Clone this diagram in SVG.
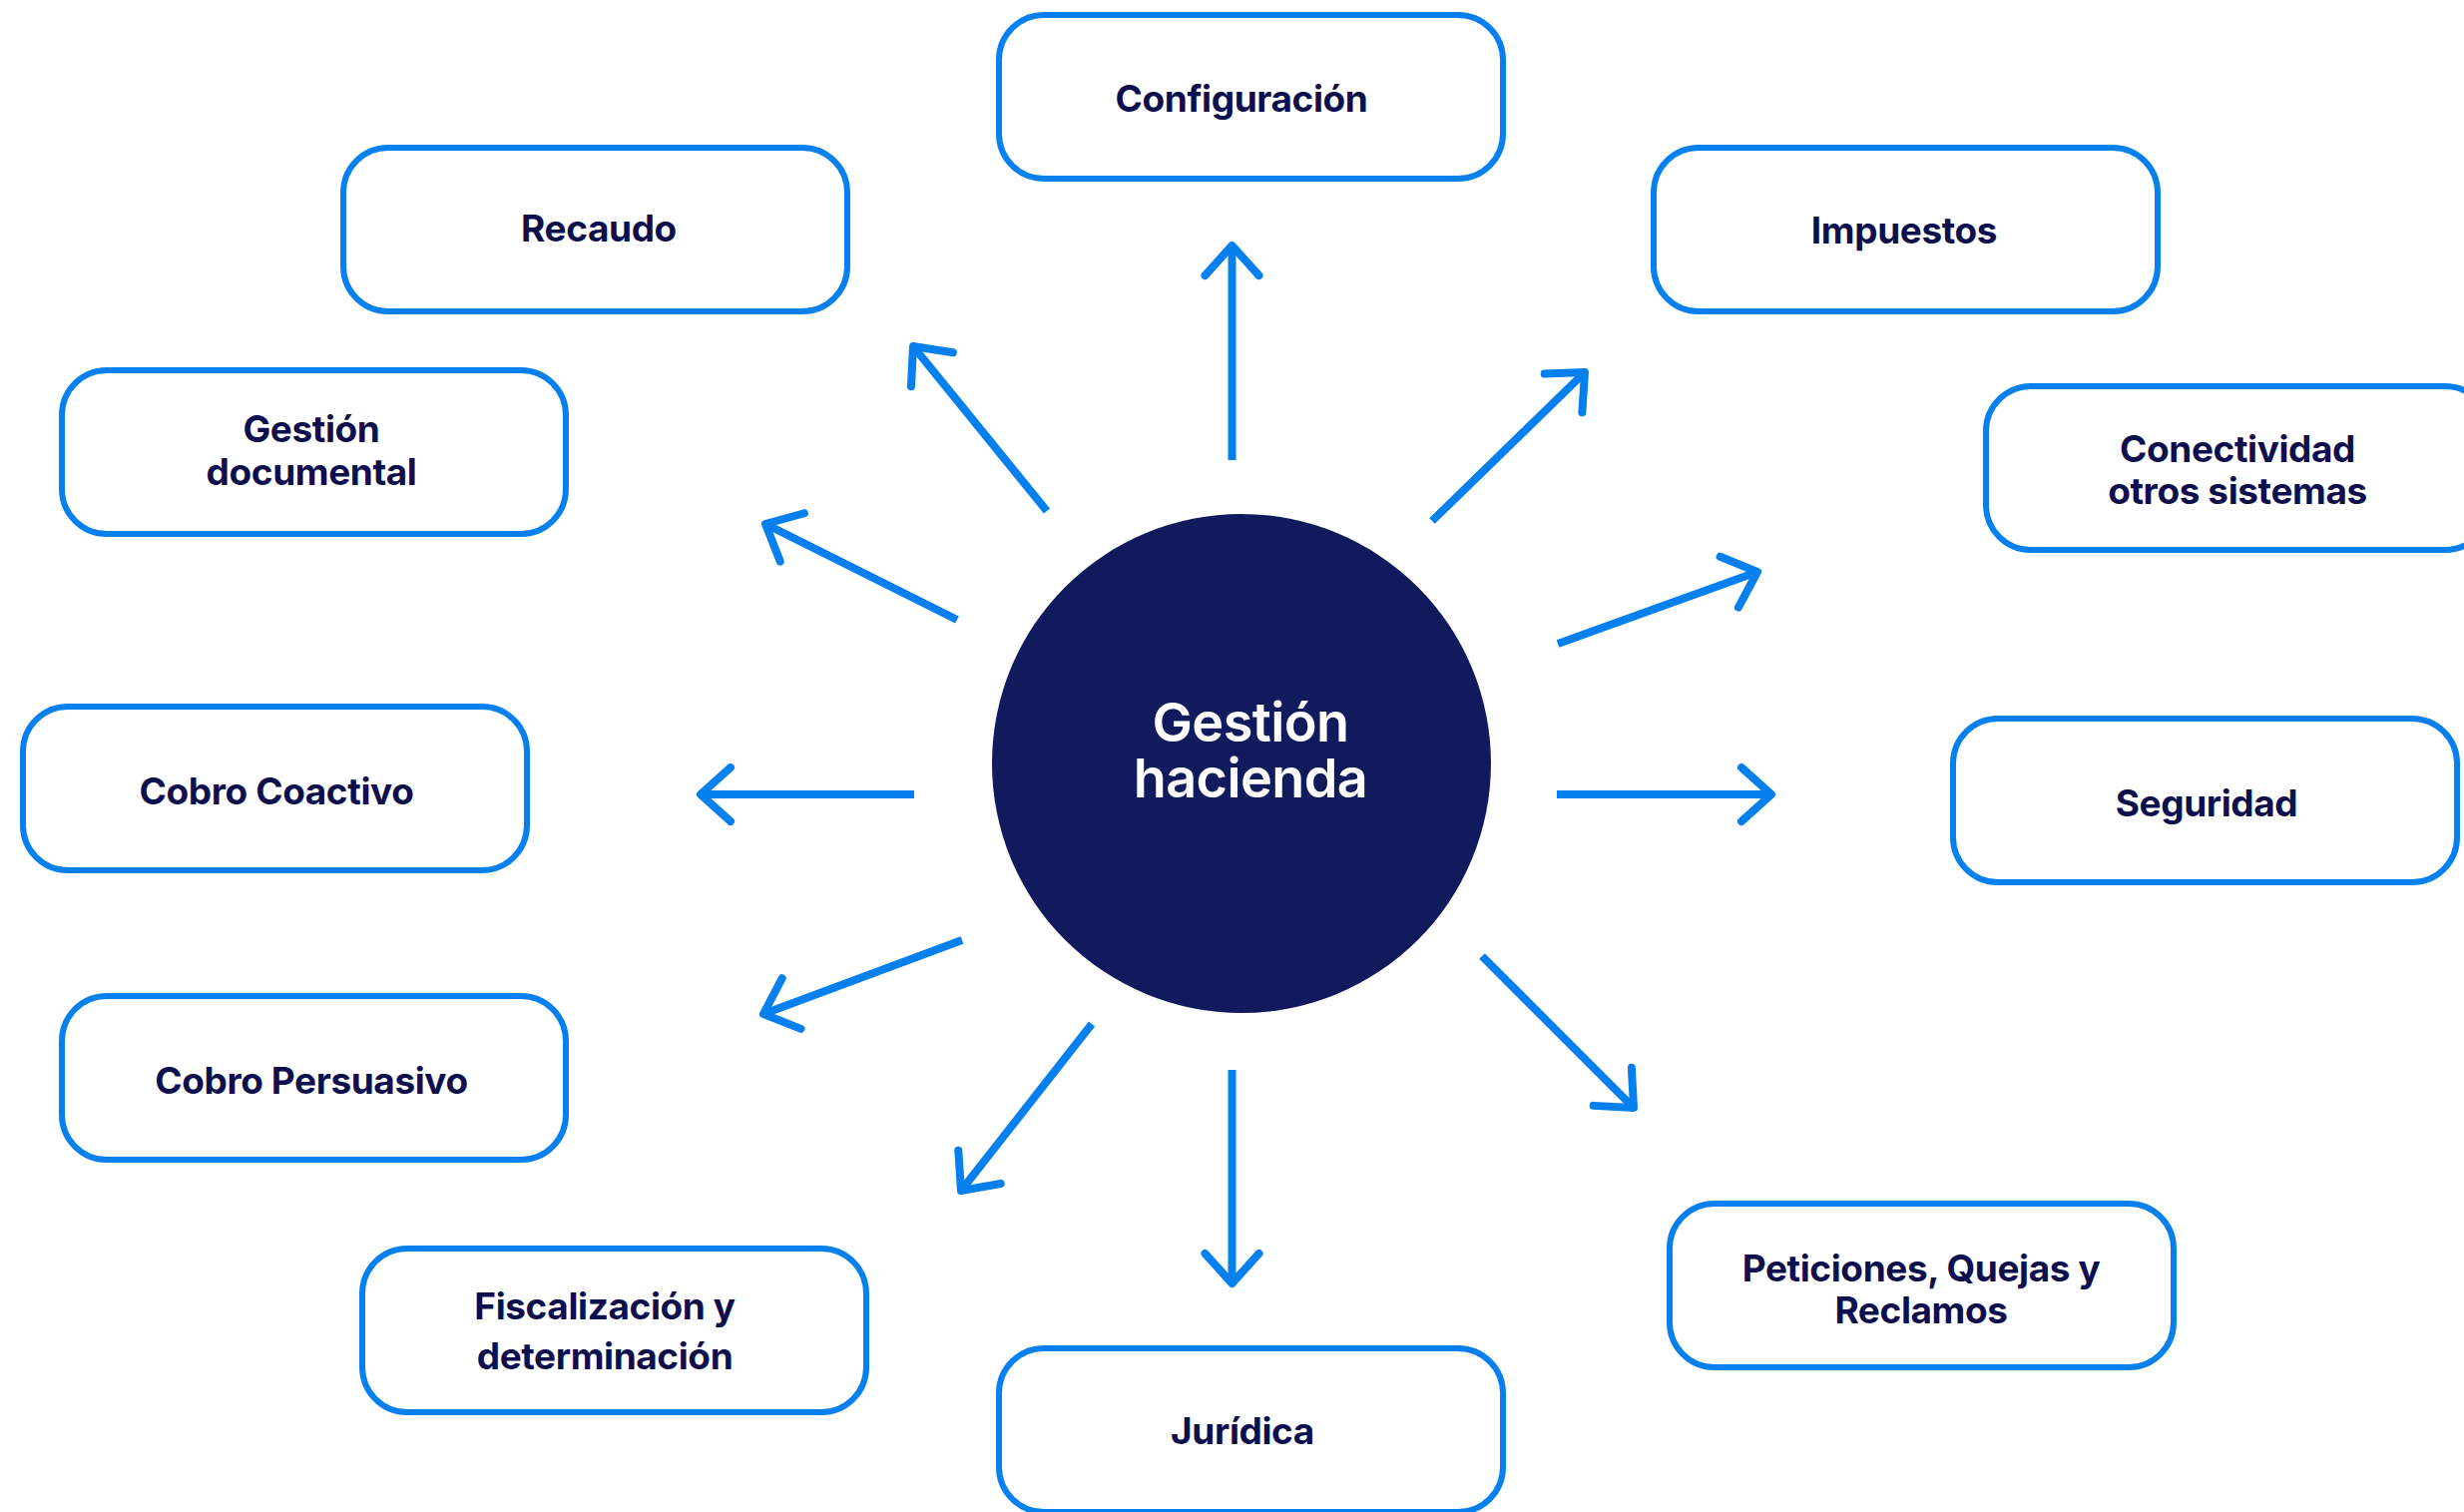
<svg xmlns="http://www.w3.org/2000/svg" width="2469" height="1515" viewBox="0 0 2469 1515">
  <style>
    .box { fill: #ffffff; stroke: #0780EF; stroke-width: 6; }
    .lbl { font-family: Inter, "Noto Sans", "Liberation Sans", sans-serif; font-weight: 700; font-size: 37px; fill: #0E0F4D; text-anchor: middle; letter-spacing: -0.4px; }
    .ctr { font-family: Inter, "Noto Sans", "Liberation Sans", sans-serif; font-weight: 600; font-size: 54px; fill: #ffffff; text-anchor: middle; letter-spacing: -0.6px; }
    .arr { fill: none; stroke: #0780EF; stroke-width: 8; stroke-linecap: butt; }
  </style>
  <defs>
    <marker id="ah" markerUnits="userSpaceOnUse" markerWidth="90" markerHeight="90" viewBox="-45 -45 90 90" refX="0" refY="0" orient="auto" overflow="visible">
      <path d="M-30,-27 L0,0 L-30,27" fill="none" stroke="#0780EF" stroke-width="8" stroke-linecap="round" stroke-linejoin="round"/>
    </marker>
  </defs>
  <rect width="2469" height="1515" fill="#ffffff"/>

  <g id="connectors">
    <line class="arr" x1="1234.5" y1="461" x2="1234.5" y2="246" marker-end="url(#ah)"/>
    <line class="arr" x1="1049" y1="512" x2="915" y2="347" marker-end="url(#ah)"/>
    <line class="arr" x1="959" y1="621" x2="767" y2="525" marker-end="url(#ah)"/>
    <line class="arr" x1="916" y1="796" x2="702" y2="796" marker-end="url(#ah)"/>
    <line class="arr" x1="964" y1="942" x2="765" y2="1016" marker-end="url(#ah)"/>
    <line class="arr" x1="1094" y1="1026" x2="963" y2="1193" marker-end="url(#ah)"/>
    <line class="arr" x1="1234.5" y1="1072" x2="1234.5" y2="1286" marker-end="url(#ah)"/>
    <line class="arr" x1="1485" y1="958" x2="1637" y2="1110" marker-end="url(#ah)"/>
    <line class="arr" x1="1560" y1="796" x2="1775" y2="796" marker-end="url(#ah)"/>
    <line class="arr" x1="1561" y1="645" x2="1761" y2="573" marker-end="url(#ah)"/>
    <line class="arr" x1="1435" y1="522" x2="1588" y2="373" marker-end="url(#ah)"/>
  </g>

  <g id="center">
    <circle cx="1244" cy="765" r="250" fill="#121A5E"/>
    <text class="ctr" x="1253" y="743">Gestión</text>
    <text class="ctr" x="1253" y="799">hacienda</text>
  </g>

  <g id="configuracion">
    <rect class="box" x="1001" y="15" width="505" height="164" rx="45"/>
    <text class="lbl" x="1244" y="112">Configuración</text>
  </g>
  <g id="recaudo">
    <rect class="box" x="344" y="148" width="505" height="164" rx="45"/>
    <text class="lbl" x="600" y="242">Recaudo</text>
  </g>
  <g id="impuestos">
    <rect class="box" x="1657" y="148" width="505" height="164" rx="45"/>
    <text class="lbl" x="1908" y="244">Impuestos</text>
  </g>
  <g id="gestion-documental">
    <rect class="box" x="62" y="371" width="505" height="164" rx="45"/>
    <text class="lbl" x="312" y="443">Gestión</text>
    <text class="lbl" x="312" y="486">documental</text>
  </g>
  <g id="conectividad">
    <rect class="box" x="1990" y="387" width="505" height="164" rx="45"/>
    <text class="lbl" x="2242" y="463">Conectividad</text>
    <text class="lbl" x="2242" y="505">otros sistemas</text>
  </g>
  <g id="cobro-coactivo">
    <rect class="box" x="23" y="708" width="505" height="164" rx="45"/>
    <text class="lbl" x="277" y="806">Cobro Coactivo</text>
  </g>
  <g id="seguridad">
    <rect class="box" x="1957" y="720" width="505" height="164" rx="45"/>
    <text class="lbl" x="2211" y="818">Seguridad</text>
  </g>
  <g id="cobro-persuasivo">
    <rect class="box" x="62" y="998" width="505" height="164" rx="45"/>
    <text class="lbl" x="312" y="1096">Cobro Persuasivo</text>
  </g>
  <g id="fiscalizacion">
    <rect class="box" x="363" y="1251" width="505" height="164" rx="45"/>
    <text class="lbl" x="606" y="1322">Fiscalización y</text>
    <text class="lbl" x="606" y="1372">determinación</text>
  </g>
  <g id="juridica">
    <rect class="box" x="1001" y="1351" width="505" height="164" rx="45"/>
    <text class="lbl" x="1245" y="1447">Jurídica</text>
  </g>
  <g id="peticiones">
    <rect class="box" x="1673" y="1206" width="505" height="164" rx="45"/>
    <text class="lbl" x="1925" y="1284">Peticiones, Quejas y</text>
    <text class="lbl" x="1925" y="1326">Reclamos</text>
  </g>
</svg>
